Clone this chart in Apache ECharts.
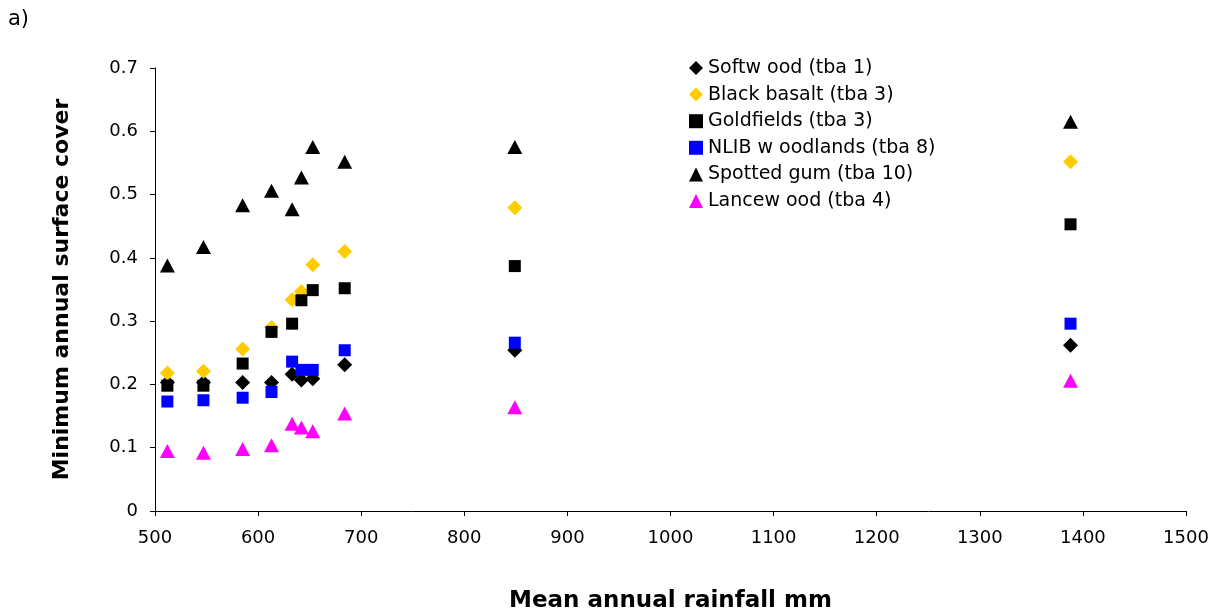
<!DOCTYPE html>
<html>
<head>
<meta charset="utf-8">
<script src="https://cdn.jsdelivr.net/npm/echarts@6/dist/echarts.min.js"></script>
<style>
  html, body { margin: 0; padding: 0; background: #fff; }
  #chart { width: 1216px; height: 613px; }
</style>
</head>
<body>
<div id="chart"></div>
<script>
// rainfall (mm) for each site
const rainfall = [512, 547, 585, 613, 633, 642, 653, 684, 849, 1388];

// minimum annual surface cover per pasture type
const softwood    = [0.203, 0.203, 0.203, 0.203, 0.216, 0.207, 0.209, 0.231, 0.254, 0.262];
const blackBasalt = [0.218, 0.221, 0.256, 0.290, 0.334, 0.347, 0.389, 0.410, 0.479, 0.552];
const goldfields  = [0.198, 0.198, 0.233, 0.283, 0.296, 0.333, 0.349, 0.352, 0.387, 0.453];
const nlib        = [0.173, 0.175, 0.179, 0.188, 0.236, 0.223, 0.223, 0.254, 0.266, 0.296];
const spottedGum  = [0.388, 0.417, 0.483, 0.506, 0.477, 0.527, 0.575, 0.552, 0.575, 0.615];
const lancewood   = [0.095, 0.092, 0.098, 0.104, 0.138, 0.132, 0.126, 0.154, 0.164, 0.206];

const seriesNames = ['Softw ood (tba 1)', 'Black basalt (tba 3)', 'Goldfields (tba 3)',
  'NLIB w oodlands (tba 8)', 'Spotted gum (tba 10)', 'Lancew ood (tba 4)'];

const pair = vals => rainfall.map((x, i) => [x, vals[i]]);

const FONT = 'DejaVu Sans, Liberation Sans, Arial, sans-serif';

const chart = echarts.init(document.getElementById('chart'), null, { renderer: 'canvas' });

function mk(name, vals, symbol, size, color) {
  return {
    name: name,
    type: 'scatter',
    data: pair(vals),
    symbol: symbol,
    symbolSize: size,
    itemStyle: { color: color, opacity: 1 },
    emphasis: { disabled: true }
  };
}

const option = {
  backgroundColor: '#fff',
  animation: false,
  textStyle: { fontFamily: FONT, color: '#000' },
  graphic: [{
    type: 'text', left: 8, top: 9,
    style: { text: 'a)', font: '21px ' + FONT, fill: '#000' }
  }],
  legend: {
    orient: 'vertical',
    left: 684,
    top: 53,
    itemWidth: 14,
    itemHeight: 14,
    itemGap: 6.6,
    textStyle: { fontSize: 19, color: '#000', fontFamily: FONT, lineHeight: 20 },
    data: seriesNames
  },
  grid: { left: 155, right: 30, top: 68, bottom: 102, containLabel: false, outerBoundsMode: 'none' },
  xAxis: {
    type: 'value',
    min: 500, max: 1500, interval: 100,
    name: 'Mean annual rainfall mm',
    nameLocation: 'middle',
    nameGap: 79,
    nameTextStyle: { fontSize: 23, fontWeight: 'bold', color: '#000', fontFamily: FONT },
    axisLine: { lineStyle: { color: '#000', width: 1 } },
    axisTick: { show: true, length: 5, lineStyle: { color: '#000' } },
    axisLabel: { fontSize: 18, color: '#000', margin: 18, fontFamily: FONT,
      formatter: v => String(v) },
    splitLine: { show: false }
  },
  yAxis: {
    type: 'value',
    min: 0, max: 0.7, interval: 0.1,
    name: 'Minimum annual surface cover',
    nameLocation: 'middle',
    nameGap: 82,
    nameTextStyle: { fontSize: 22, fontWeight: 'bold', color: '#000', fontFamily: FONT },
    axisLine: { show: true, lineStyle: { color: '#000', width: 1 } },
    axisTick: { show: true, length: 5, lineStyle: { color: '#000' } },
    axisLabel: { fontSize: 18, color: '#000', margin: 17, fontFamily: FONT,
      formatter: v => v === 0 ? '0' : v.toFixed(1) },
    splitLine: { show: false }
  },
  series: [
    mk(seriesNames[0], softwood, 'diamond', 15, '#000000'),
    mk(seriesNames[1], blackBasalt, 'diamond', 15, '#FFCC00'),
    mk(seriesNames[2], goldfields, 'rect', 12, '#000000'),
    mk(seriesNames[3], nlib, 'rect', 12, '#0000FF'),
    mk(seriesNames[4], spottedGum, 'triangle', [15, 14], '#000000'),
    mk(seriesNames[5], lancewood, 'triangle', [15, 14], '#FF00FF')
  ]
};

chart.setOption(option);
window.addEventListener('resize', () => chart.resize());
</script>
</body>
</html>
